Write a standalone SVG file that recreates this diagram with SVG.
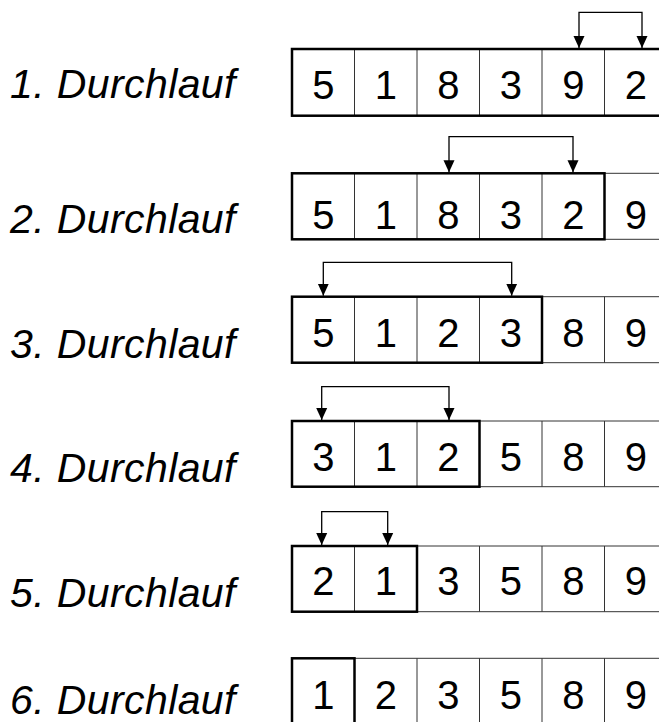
<svg xmlns="http://www.w3.org/2000/svg" width="659" height="722" viewBox="0 0 659 722">
<style>
.lbl{font-family:"Liberation Sans",Arial,sans-serif;font-size:41px;letter-spacing:0.4px;font-style:italic;fill:#000}
.num{font-family:"Liberation Sans",Arial,sans-serif;font-size:40px;fill:#000;text-anchor:middle}
.thin{fill:none;stroke:#333;stroke-width:1}
.thick{fill:none;stroke:#000;stroke-width:2.5}
.con{fill:none;stroke:#000;stroke-width:1.3;marker-start:url(#ah);marker-end:url(#ah)}
</style>
<defs>
<marker id="ah" markerUnits="userSpaceOnUse" markerWidth="13" markerHeight="13" viewBox="0 0 13 13" refX="12" refY="6.5" orient="auto-start-reverse">
<path d="M0,1 L12,6.5 L0,12 Z" fill="#000"/>
</marker>
</defs>
<rect width="659" height="722" fill="#fff"/>

<g id="row1">
<text class="lbl" x="10" y="98">1. Durchlauf</text>
<path class="thin" d="M292,49H667M292,115.7H667M354.5,49V115.7M417,49V115.7M479.5,49V115.7M542,49V115.7M604.5,49V115.7"/>
<rect class="thick" x="292" y="49" width="375" height="66.7"/>
<text class="num" x="323.3" y="99">5</text><text class="num" x="385.8" y="99">1</text><text class="num" x="448.3" y="99">8</text><text class="num" x="510.8" y="99">3</text><text class="num" x="573.3" y="99">9</text><text class="num" x="635.8" y="99">2</text>
</g>

<g id="row2">
<text class="lbl" x="10" y="233">2. Durchlauf</text>
<path class="thin" d="M292,173.3H667M292,239.3H667M354.5,173.3V239.3M417,173.3V239.3M479.5,173.3V239.3M542,173.3V239.3M604.5,173.3V239.3"/>
<rect class="thick" x="292" y="173.3" width="312.5" height="66"/>
<text class="num" x="323.3" y="229">5</text><text class="num" x="385.8" y="229">1</text><text class="num" x="448.3" y="229">8</text><text class="num" x="510.8" y="229">3</text><text class="num" x="573.3" y="229">2</text><text class="num" x="635.8" y="229">9</text>
</g>

<g id="row3">
<text class="lbl" x="10" y="357.5">3. Durchlauf</text>
<path class="thin" d="M292,296.7H667M292,362.7H667M354.5,296.7V362.7M417,296.7V362.7M479.5,296.7V362.7M542,296.7V362.7M604.5,296.7V362.7"/>
<rect class="thick" x="292" y="296.7" width="250" height="66"/>
<text class="num" x="323.3" y="347">5</text><text class="num" x="385.8" y="347">1</text><text class="num" x="448.3" y="347">2</text><text class="num" x="510.8" y="347">3</text><text class="num" x="573.3" y="347">8</text><text class="num" x="635.8" y="347">9</text>
</g>

<g id="row4">
<text class="lbl" x="10" y="481.5">4. Durchlauf</text>
<path class="thin" d="M292,421H667M292,486.7H667M354.5,421V486.7M417,421V486.7M479.5,421V486.7M542,421V486.7M604.5,421V486.7"/>
<rect class="thick" x="292" y="421" width="187.5" height="65.7"/>
<text class="num" x="323.3" y="471">3</text><text class="num" x="385.8" y="471">1</text><text class="num" x="448.3" y="471">2</text><text class="num" x="510.8" y="471">5</text><text class="num" x="573.3" y="471">8</text><text class="num" x="635.8" y="471">9</text>
</g>

<g id="row5">
<text class="lbl" x="10" y="606.5">5. Durchlauf</text>
<path class="thin" d="M292,546H667M292,611.7H667M354.5,546V611.7M417,546V611.7M479.5,546V611.7M542,546V611.7M604.5,546V611.7"/>
<rect class="thick" x="292" y="546" width="125" height="65.7"/>
<text class="num" x="323.3" y="594.5">2</text><text class="num" x="385.8" y="594.5">1</text><text class="num" x="448.3" y="594.5">3</text><text class="num" x="510.8" y="594.5">5</text><text class="num" x="573.3" y="594.5">8</text><text class="num" x="635.8" y="594.5">9</text>
</g>

<g id="row6">
<text class="lbl" x="10" y="714">6. Durchlauf</text>
<path class="thin" d="M292,658.3H667M292,724H667M354.5,658.3V724M417,658.3V724M479.5,658.3V724M542,658.3V724M604.5,658.3V724"/>
<rect class="thick" x="292" y="658.3" width="62.5" height="66"/>
<text class="num" x="323.3" y="708.5">1</text><text class="num" x="385.8" y="708.5">2</text><text class="num" x="448.3" y="708.5">3</text><text class="num" x="510.8" y="708.5">5</text><text class="num" x="573.3" y="708.5">8</text><text class="num" x="635.8" y="708.5">9</text>
</g>

<g id="connectors">
<path class="con" d="M579,48V12.3H642V48"/>
<path class="con" d="M449,172.3V136.7H573V172.3"/>
<path class="con" d="M323.3,295.7V262.3H511.7V295.7"/>
<path class="con" d="M321.7,420V386.7H449V420"/>
<path class="con" d="M321.7,545V511.7H387.7V545"/>
</g>
</svg>
